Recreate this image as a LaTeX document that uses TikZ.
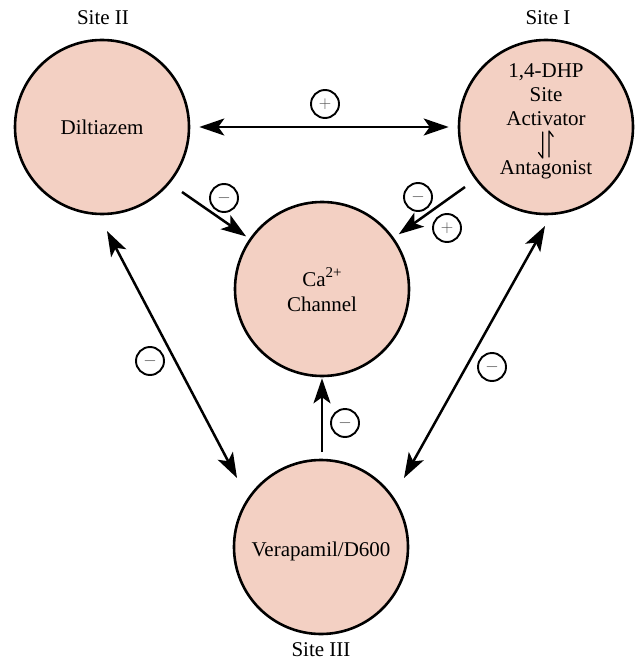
\documentclass[tikz,border=0pt]{standalone}
\usepackage{fontspec}
\setmainfont{Liberation Serif}
\usetikzlibrary{arrows.meta}
\definecolor{sitefill}{RGB}{243,208,195}
\begin{document}
\begin{tikzpicture}[x=1pt,y=-1pt,
  site/.style={circle,draw,line width=2.6pt,fill=sitefill,minimum size=174pt,inner sep=0pt},
  lbl/.style={font=\fontsize{21}{24}\selectfont,align=center,inner sep=0pt},
  sign/.style={circle,draw,line width=1.9pt,minimum size=28pt,inner sep=0pt,text=black!70,font=\fontsize{19}{19}\selectfont},
  tipx/.tip={Stealth[length=25pt,width=17pt,inset=6pt]},
  arr/.style={line width=2.5pt,-tipx},
  darr/.style={line width=2.5pt,tipx-tipx},
  harp/.style={line width=1.3pt,line cap=round,line join=round}]
\useasboundingbox (0,0) rectangle (636,668);
% sites
\node[site] (dil) at (102,127) {};
\node[lbl] (dilt) at (dil) {Diltiazem};
\node[site] (s1) at (546,127) {};
\node[lbl] (s1t) at (546,72) {1,4-DHP};
\node[lbl] (s1u) at (546,95) {Site};
\node[lbl] (s1v) at (546,119) {Activator};
\node[lbl] (s1w) at (546,170) {Antagonist};
\draw[harp] (542.7,132) -- (542.7,158) -- (538.5,152.5);
\draw[harp] (549,157) -- (549,131) -- (553.2,136.5);
\node[site] (ca) at (322,289) {};
\node[lbl,font=\fontsize{21}{25}\selectfont] (cat) at (322,290) {Ca\raisebox{0.42em}{\fontsize{15}{15}\selectfont 2+}\\Channel};
\node[site] (ver) at (321,547) {};
\node[lbl] (vert) at (321,551) {Verapamil/D600};
% site labels
\node[lbl] (l2) at (103,18) {Site II};
\node[lbl] (l1) at (548,18) {Site I};
\node[lbl] (l3) at (321,650) {Site III};
% connectors
\draw[darr,shorten <=9pt,shorten >=9pt] (dil) -- (s1);
\coordinate (a1) at (182,192);
\coordinate (a2) at (465,187);
\coordinate (a3) at (322,452);
\draw[arr,shorten >=4pt] (a1) -- (ca);
\draw[arr,shorten >=6pt] (a2) -- (ca);
\draw[arr,shorten >=1pt] (a3) -- (ca);
\coordinate (b1) at (107,231);
\coordinate (b2) at (237,478);
\draw[darr] (b1) -- (b2);
\coordinate (c1) at (545,226);
\coordinate (c2) at (404,478);
\draw[darr] (c1) -- (c2);
% signs
\node[sign] (p1) at (325,104) {$+$};
\node[sign] (m1) at (224,198) {$-$};
\node[sign] (m2) at (418,197) {$-$};
\node[sign] (p2) at (447,228) {$+$};
\node[sign] (m3) at (345,423) {$-$};
\node[sign] (m4) at (150,361) {$-$};
\node[sign] (m5) at (492,367) {$-$};
\end{tikzpicture}
\end{document}
